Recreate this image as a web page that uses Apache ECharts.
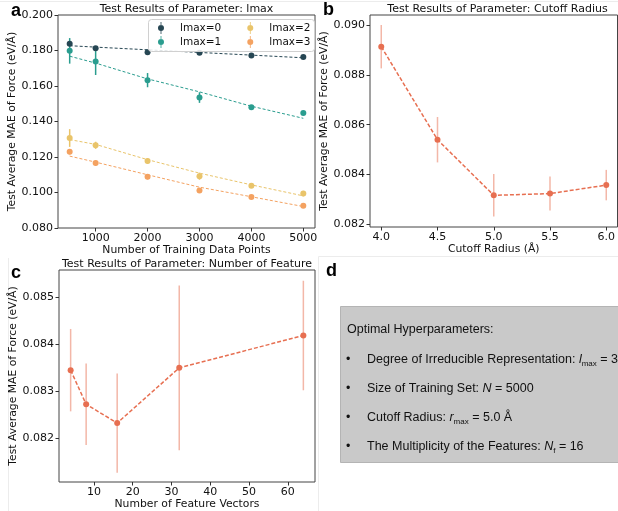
<!DOCTYPE html>
<html>
<head>
<meta charset="utf-8">
<script src="https://cdn.jsdelivr.net/npm/echarts@6/dist/echarts.min.js"></script>
<style>html,body{margin:0;padding:0;background:#fff}#c{width:618px;height:511px}</style>
</head>
<body>
<div id="c"></div>
<script>
// ---------- Panel a: training set size ----------
const trainSizes = [500, 1000, 2000, 3000, 4000, 5000];
const lmax0 = [0.1838, 0.1812, 0.1790, 0.1787, 0.1772, 0.1763];
const lmax0Err = [0.0012, 0.0008, 0.0006, 0.0006, 0.0005, 0.0005];
const lmax0Fit = [0.1827, 0.1819, 0.1804, 0.1789, 0.1774, 0.1759];
const lmax1 = [0.1798, 0.1738, 0.1633, 0.1535, 0.1480, 0.1448];
const lmax1Err = [0.0072, 0.0076, 0.0040, 0.0030, 0.0010, 0.0012];
const lmax1Fit = [0.1768, 0.1729, 0.1640, 0.1567, 0.1486, 0.1418];
const lmax2 = [0.1307, 0.1266, 0.1177, 0.1092, 0.1038, 0.0994];
const lmax2Err = [0.0050, 0.0020, 0.0015, 0.0020, 0.0012, 0.0015];
const lmax2Fit = [0.1298, 0.1271, 0.1185, 0.1109, 0.1043, 0.0981];
const lmax3 = [0.1230, 0.1166, 0.1089, 0.1011, 0.0974, 0.0925];
const lmax3Err = [0.0015, 0.0015, 0.0015, 0.0008, 0.0008, 0.0008];
const lmax3Fit = [0.1205, 0.1171, 0.1100, 0.1030, 0.0976, 0.0921];
const lmaxNames = ['lmax=0', 'lmax=1', 'lmax=2', 'lmax=3'];
const aXTicks = [1000, 2000, 3000, 4000, 5000];
const aYTicks = [0.08, 0.10, 0.12, 0.14, 0.16, 0.18, 0.20];

// ---------- Panel b: cutoff radius ----------
const cutoffRadii = [4.0, 4.5, 5.0, 5.5, 6.0];
const cutoffMae = [0.08913, 0.08540, 0.08317, 0.08324, 0.08358];
const cutoffErr = [0.00087, 0.00091, 0.00085, 0.00068, 0.00061];
const bXTicks = [4.0, 4.5, 5.0, 5.5, 6.0];
const bYTicks = [0.082, 0.084, 0.086, 0.088, 0.090];

// ---------- Panel c: number of feature vectors ----------
const featureCounts = [4, 8, 16, 32, 64];
const featureMae = [0.08345, 0.08272, 0.08232, 0.08350, 0.08419];
const featureErr = [0.00088, 0.00087, 0.00106, 0.00176, 0.00117];
const cXTicks = [10, 20, 30, 40, 50, 60];
const cYTicks = [0.082, 0.083, 0.084, 0.085];

// ---------- Panel d ----------
const optHeader = 'Optimal Hyperparameters:';
const optLines = [
  'Degree of Irreducible Representation: {it|l}{sub|max} = 3',
  'Size of Training Set: {it|N} = 5000',
  'Cutoff Radius: {it|r}{sub|max} = 5.0 Å',
  'The Multiplicity of the Features: {it|N}{sub|f} = 16'
];

const colors = ['#264653', '#2a9d8f', '#e9c46a', '#f4a261'];
const coral = '#e76f51';
const coralLight = 'rgba(231,111,81,0.5)';
const FONT = 'DejaVu Sans';

function errData(xs, ys, es) { return xs.map((x, i) => [x, ys[i] - es[i], ys[i] + es[i]]); }
function pairs(xs, ys) { return xs.map((x, i) => [x, ys[i]]); }
function errSeries(xi, yi, data, color, z) {
  return {
    type: 'custom', xAxisIndex: xi, yAxisIndex: yi, z: z || 2,
    encode: { x: 0, y: [1, 2] }, data: data, silent: true,
    renderItem: function (params, api) {
      const p1 = api.coord([api.value(0), api.value(1)]);
      const p2 = api.coord([api.value(0), api.value(2)]);
      return { type: 'line', shape: { x1: p1[0], y1: p1[1], x2: p2[0], y2: p2[1] },
               style: { stroke: color, lineWidth: 1.5 } };
    }
  };
}

const axisCommon = {
  axisLine: { show: false },
  axisTick: { show: true, inside: false, length: 3.5, lineStyle: { color: '#333', width: 1 } },
  splitLine: { show: false },
  axisLabel: { color: '#111', fontFamily: FONT, fontSize: 11, margin: 5 },
  nameTextStyle: { color: '#111', fontFamily: FONT, fontSize: 10.8 }
};
function xAx(gi, min, max, ticks, name, fmt, gap) {
  return Object.assign({}, axisCommon, {
    type: 'value', gridIndex: gi, min: min, max: max, name: name, nameLocation: 'middle', nameGap: gap,
    axisTick: Object.assign({}, axisCommon.axisTick, { customValues: ticks }),
    axisLabel: Object.assign({}, axisCommon.axisLabel, { customValues: ticks, formatter: fmt })
  });
}
function yAx(gi, min, max, ticks, name, gap) {
  return Object.assign({}, axisCommon, {
    type: 'value', gridIndex: gi, min: min, max: max, name: name, nameLocation: 'middle', nameGap: gap,
    axisTick: Object.assign({}, axisCommon.axisTick, { customValues: ticks }),
    axisLabel: Object.assign({}, axisCommon.axisLabel, { customValues: ticks, formatter: v => v.toFixed(3) })
  });
}
const yName = 'Test Average MAE of Force (eV/Å)';
const gridStyle = { show: true, borderColor: '#444', borderWidth: 1, backgroundColor: 'transparent' };

const series = [];
const lmaxVals = [lmax0, lmax1, lmax2, lmax3];
const lmaxErrs = [lmax0Err, lmax1Err, lmax2Err, lmax3Err];
const lmaxFits = [lmax0Fit, lmax1Fit, lmax2Fit, lmax3Fit];
for (let k = 0; k < 4; k++) {
  series.push({
    type: 'line', xAxisIndex: 0, yAxisIndex: 0, data: pairs(trainSizes, lmaxFits[k]), symbol: 'none',
    lineStyle: { color: colors[k], width: 1, type: [3, 2] }, z: 1, silent: true
  });
  series.push(errSeries(0, 0, errData(trainSizes, lmaxVals[k], lmaxErrs[k]), colors[k], 2));
  series.push({
    type: 'scatter', name: lmaxNames[k], xAxisIndex: 0, yAxisIndex: 0, data: pairs(trainSizes, lmaxVals[k]),
    symbol: 'circle', symbolSize: 6, itemStyle: { color: colors[k], opacity: 1 }, z: 3
  });
}
series.push(errSeries(1, 1, errData(cutoffRadii, cutoffMae, cutoffErr), coralLight, 2));
series.push({
  type: 'line', xAxisIndex: 1, yAxisIndex: 1, data: pairs(cutoffRadii, cutoffMae), symbol: 'circle', symbolSize: 6,
  itemStyle: { color: coral }, lineStyle: { color: coral, width: 1.5, type: [4, 2] }, z: 3
});
series.push(errSeries(2, 2, errData(featureCounts, featureMae, featureErr), coralLight, 2));
series.push({
  type: 'line', xAxisIndex: 2, yAxisIndex: 2, data: pairs(featureCounts, featureMae), symbol: 'circle', symbolSize: 6,
  itemStyle: { color: coral }, lineStyle: { color: coral, width: 1.5, type: [4, 2] }, z: 3
});

const legendIcon = 'path://M2.6,0 L3.4,0 L3.4,12 L2.6,12 Z M3,3 A3,3 0 1 1 2.99,3 Z';

function txt(x, y, text, style) {
  return { type: 'text', x: x, y: y, silent: true, style: Object.assign({ text: text, fill: '#111' }, style) };
}

const graphics = [
  // faint panel separators
  { type: 'line', shape: { x1: 0, y1: 1.5, x2: 618, y2: 1.5 }, style: { stroke: '#ececec', lineWidth: 1 }, silent: true },
  { type: 'line', shape: { x1: 318.5, y1: 256.5, x2: 618, y2: 256.5 }, style: { stroke: '#ececec', lineWidth: 1 }, silent: true },
  { type: 'line', shape: { x1: 318.5, y1: 256.5, x2: 318.5, y2: 511 }, style: { stroke: '#ececec', lineWidth: 1 }, silent: true },
  { type: 'line', shape: { x1: 8.5, y1: 258, x2: 8.5, y2: 511 }, style: { stroke: '#ececec', lineWidth: 1 }, silent: true },
  // legend frame for panel a
  { type: 'rect', z: 10, shape: { x: 148.5, y: 19.5, width: 166, height: 32, r: 3 }, style: { fill: 'rgba(255,255,255,0.85)', stroke: '#d0d0d0', lineWidth: 1 }, silent: true },
  // titles
  txt(186.5, 9, 'Test Results of Parameter: lmax', { font: '11px "DejaVu Sans"', textAlign: 'center', textVerticalAlign: 'middle' }),
  txt(497.5, 9, 'Test Results of Parameter: Cutoff Radius', { font: '11px "DejaVu Sans"', textAlign: 'center', textVerticalAlign: 'middle' }),
  txt(187, 264, 'Test Results of Parameter: Number of Feature', { font: '11px "DejaVu Sans"', textAlign: 'center', textVerticalAlign: 'middle' }),
  // panel letters
  txt(11, 11, 'a', { font: 'bold 18px "Liberation Sans"', textVerticalAlign: 'middle', fill: '#000' }),
  txt(323, 10, 'b', { font: 'bold 18px "Liberation Sans"', textVerticalAlign: 'middle', fill: '#000' }),
  txt(11, 273, 'c', { font: 'bold 18px "Liberation Sans"', textVerticalAlign: 'middle', fill: '#000' }),
  txt(326, 271, 'd', { font: 'bold 18px "Liberation Sans"', textVerticalAlign: 'middle', fill: '#000' }),
  // panel d box
  { type: 'rect', shape: { x: 340.5, y: 306.5, width: 290, height: 156 }, style: { fill: '#c9c9c9', stroke: '#b4b4b4', lineWidth: 1 }, silent: true },
  txt(347, 330, optHeader, { font: '12.5px "Liberation Sans"', textVerticalAlign: 'middle' })
];
const bulletYs = [360, 389, 418, 447];
optLines.forEach((line, i) => {
  graphics.push(txt(346, bulletYs[i], '•', { font: '12.5px "Liberation Sans"', textVerticalAlign: 'middle' }));
  graphics.push({
    type: 'text', x: 367, y: bulletYs[i] - 8, silent: true,
    style: {
      text: line, fill: '#111', font: '12.5px "Liberation Sans"', lineHeight: 16,
      rich: {
        it: { fontStyle: 'italic', fontSize: 12.5, fontFamily: 'Liberation Sans', fill: '#111', lineHeight: 16, verticalAlign: 'middle' },
        sub: { fontSize: 8, fontFamily: 'Liberation Sans', fill: '#111', lineHeight: 16, verticalAlign: 'bottom' }
      }
    }
  });
});

const legendCommon = {
  left: 158, orient: 'horizontal', itemWidth: 6, itemHeight: 12, itemGap: 26, z: 12,
  icon: legendIcon, padding: 0, selectedMode: false,
  textStyle: { fontFamily: FONT, fontSize: 10.5, color: '#111', padding: [0, 0, 0, 11] }
};

const option = {
  animation: false,
  backgroundColor: '#fff',
  grid: [
    Object.assign({ left: 58, right: 303, top: 15, bottom: 283 }, gridStyle),
    Object.assign({ left: 370, right: -7, top: 15, bottom: 284 }, gridStyle),
    Object.assign({ left: 59, right: 303, top: 270, bottom: 29 }, gridStyle)
  ],
  xAxis: [
    xAx(0, 275, 5225, aXTicks, 'Number of Training Data Points', v => String(v), 16),
    xAx(1, 3.9, 6.1, bXTicks, 'Cutoff Radius (Å)', v => v.toFixed(1), 16),
    xAx(2, 1, 67, cXTicks, 'Number of Feature Vectors', v => String(v), 16)
  ],
  yAxis: [
    yAx(0, 0.08, 0.20, aYTicks, yName, 32),
    yAx(1, 0.0819, 0.0904, bYTicks, yName, 32),
    yAx(2, 0.08106, 0.08559, cYTicks, yName, 32)
  ],
  legend: [
    Object.assign({}, legendCommon, { top: 22, data: ['lmax=0', 'lmax=2'] }),
    Object.assign({}, legendCommon, { top: 36, data: ['lmax=1', 'lmax=3'] })
  ],
  graphic: graphics,
  series: series
};

const chart = echarts.init(document.getElementById('c'), null, { renderer: 'canvas' });
chart.setOption(option);
</script>
</body>
</html>
